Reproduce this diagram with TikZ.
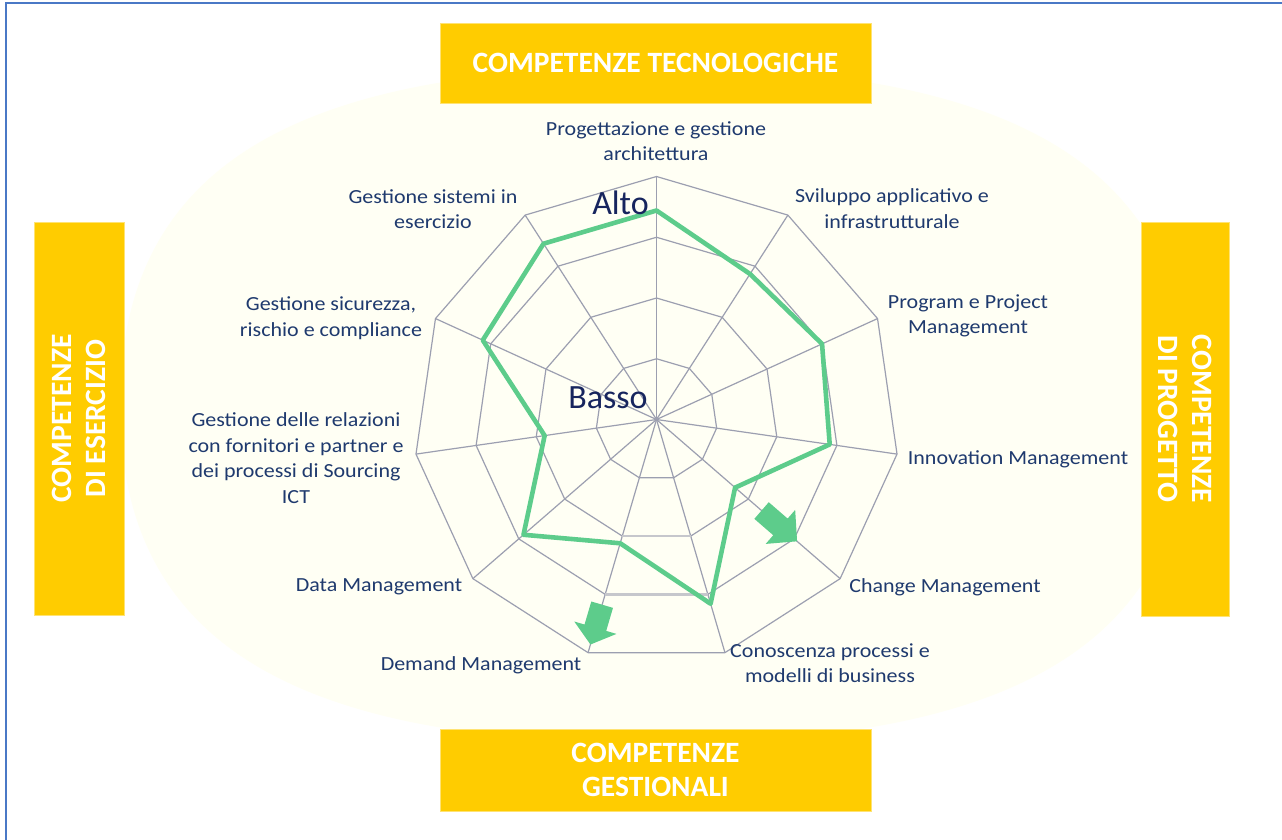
\documentclass[tikz,border=0pt]{standalone}
\usepackage{fontspec}
\setmainfont{Carlito}
\newfontfamily\lab[FakeStretch=1.1]{Carlito}
\usetikzlibrary{calc}
\definecolor{navy}{HTML}{1F3A6E}
\definecolor{darknavy}{HTML}{17255E}
\definecolor{gridc}{HTML}{9C9FB0}
\definecolor{lightgridc}{HTML}{C6C7CC}
\definecolor{greenc}{HTML}{5DCC8B}
\definecolor{boxc}{HTML}{FFCC00}
\definecolor{creamc}{HTML}{FFFFF4}
\definecolor{framec}{HTML}{4A78C6}
% block arrow along a radar axis: angle, r back, r head base, r tip, shaft half width, head half width
\newcommand\grarrow[6]{%
  \fill[grarrowfill] ($(C)+(#1:#2)+({#1+90}:#5)$) -- ($(C)+(#1:#3)+({#1+90}:#5)$)
    -- ($(C)+(#1:#3)+({#1+90}:#6)$) -- ($(C)+(#1:#4)$)
    -- ($(C)+(#1:#3)+({#1-90}:#6)$) -- ($(C)+(#1:#3)+({#1-90}:#5)$)
    -- ($(C)+(#1:#2)+({#1-90}:#5)$) -- cycle;}
\begin{document}
\begin{tikzpicture}[x=1pt,y=-1pt,
  gridline/.style={draw=gridc, line width=1.2pt},
  lightseg/.style={draw=lightgridc, line width=2.8pt},
  dataline/.style={draw=greenc, line width=4.6pt, line join=round},
  lbl/.style={text=navy, font=\lab\fontsize{20}{25.5}\selectfont, align=center, inner sep=0pt},
  levelword/.style={text=darknavy, font=\fontsize{34}{36}\selectfont, inner sep=0pt},
  catbox/.style={fill=boxc, draw=boxc!55!white, line width=0.8pt, text=white,
    font=\bfseries\fontsize{29.5}{34}\selectfont, align=center, inner sep=0pt},
  frame/.style={draw=framec, line width=1.6pt},
  cream/.style={fill=creamc},
  grarrowfill/.style={fill=greenc}
]
\useasboundingbox (0,0) rectangle (1282,839);
\fill[white] (0,0) rectangle (1282,839);
% cream background
\fill[cream] (1190,405) .. controls (1190,172) and (1024,67) .. (655,67)
  .. controls (286,67) and (120,172) .. (120,405)
  .. controls (120,638) and (286,743) .. (655,743)
  .. controls (1024,743) and (1190,638) .. (1190,405) -- cycle;
% frame
\draw[frame] (6,845) -- (6,3) -- (1290,3);
% category boxes
\node[catbox, minimum width=431, minimum height=80] (top) at (655.5,63) {COMPETENZE TECNOLOGICHE};
\node[catbox, minimum width=431, minimum height=82] (bottom) at (655.5,770) {COMPETENZE\\GESTIONALI};
\node[catbox, rotate=90, minimum width=393, minimum height=90] (left) at (79,418.5) {COMPETENZE\\DI ESERCIZIO};
\node[catbox, rotate=-90, minimum width=394, minimum height=88] (right) at (1185,419) {COMPETENZE\\DI PROGETTO};
% radar grid
\coordinate (C) at (656.5,419.5);
\foreach \k in {0,...,10}{
  \coordinate (a\k) at ($(C)+({-90+\k*360/11}:243)$);
  \draw[gridline] (C) -- (a\k);
}
\foreach \r in {60.75,121.5,182.25,243}{
  \draw[gridline, line join=round] ($(C)+(-90:\r)$)
    \foreach \k in {1,...,10}{ -- ($(C)+({-90+\k*360/11}:\r)$) } -- cycle;
}
\foreach \r in {121.5,182.25}{
  \draw[lightseg] ($(C)+({-90+5*360/11}:\r)$) -- ($(C)+({-90+6*360/11}:\r)$);
}
% data polygon
\draw[dataline] ($(C)+(-90:209)$)
  \foreach \k/\r in {1/173,2/182,3/175,4/104,5/192,6/129,7/176,8/113,9/191,10/209}{
    -- ($(C)+({-90+\k*360/11}:\r)$) } -- cycle;
% arrows
\grarrow{40.909}{139}{164}{186}{11}{22.5}
\grarrow{106.364}{193}{217}{234.5}{11.3}{22}
% level words
\node[levelword] (alto) at (620.5,203) {Alto};
\node[levelword] (basso) at (608,398) {Basso};
% axis labels
\node[lbl] (l0) at (656,141) {Progettazione e gestione\\architettura};
\node[lbl] (l1) at (892,208.5) {Sviluppo applicativo e\\infrastrutturale};
\node[lbl] (l2) at (968,316) {Program e Project\\Management};
\node[lbl] (l3) at (1018,459) {Innovation Management};
\node[lbl] (l4) at (945,587) {Change Management};
\node[lbl] (l5) at (830,663) {Conoscenza processi e\\modelli di business};
\node[lbl] (l6) at (481,665) {Demand Management};
\node[lbl] (l7) at (379,587) {Data Management};
\node[lbl] (l8) at (296,458) {Gestione delle relazioni\\con fornitori e partner e\\dei processi di Sourcing\\ICT};
\node[lbl] (l9) at (331,318) {Gestione sicurezza,\\rischio e compliance};
\node[lbl] (l10) at (433,209) {Gestione sistemi in\\esercizio};
\end{tikzpicture}
\end{document}
